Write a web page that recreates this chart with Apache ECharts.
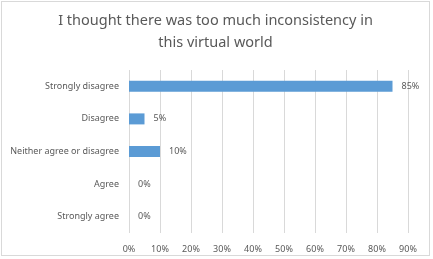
<!DOCTYPE html>
<html>
<head>
<meta charset="utf-8">
<script src="https://cdn.jsdelivr.net/npm/echarts@6/dist/echarts.min.js"></script>
<style>
  html, body { margin: 0; padding: 0; background: #fff; }
  #chart {
    width: 429px;
    height: 255px;
    margin: 1px;
    border: 1px solid #d9d9d9;
    box-sizing: border-box;
  }
</style>
</head>
<body>
<div id="chart"></div>
<script>
// data
var categories = ["Strongly disagree", "Disagree", "Neither agree or disagree", "Agree", "Strongly agree"];
var percents = [85, 5, 10, 0, 0];

var chart = echarts.init(document.getElementById("chart"));

chart.setOption({
  animation: false,
  title: {
    text: "I thought there was too much inconsistency in\nthis virtual world",
    left: "center",
    top: 3,
    textStyle: {
      fontFamily: "Noto Sans",
      fontSize: 14.5,
      fontWeight: "normal",
      color: "#595959",
      lineHeight: 22
    }
  },
  grid: {
    left: 127,
    right: 21,
    top: 68,
    bottom: 22
  },
  xAxis: {
    type: "value",
    min: 0,
    max: 90,
    interval: 10,
    axisLine: { show: false },
    axisTick: { show: false },
    splitLine: { lineStyle: { color: "#d9d9d9", width: 1 } },
    axisLabel: {
      formatter: "{value}%",
      color: "#595959",
      fontFamily: "Noto Sans",
      fontSize: 9,
      margin: 12
    }
  },
  yAxis: {
    type: "category",
    inverse: true,
    data: categories,
    axisLine: { show: false },
    axisTick: { show: false },
    axisLabel: {
      color: "#595959",
      fontFamily: "Noto Sans",
      fontSize: 9,
      margin: 10
    }
  },
  series: [{
    type: "bar",
    data: percents,
    barWidth: 11,
    itemStyle: { color: "#5b9bd5" },
    label: {
      show: true,
      position: "right",
      distance: 9,
      formatter: "{c}%",
      color: "#595959",
      fontFamily: "Noto Sans",
      fontSize: 9
    }
  }]
});
</script>
</body>
</html>
